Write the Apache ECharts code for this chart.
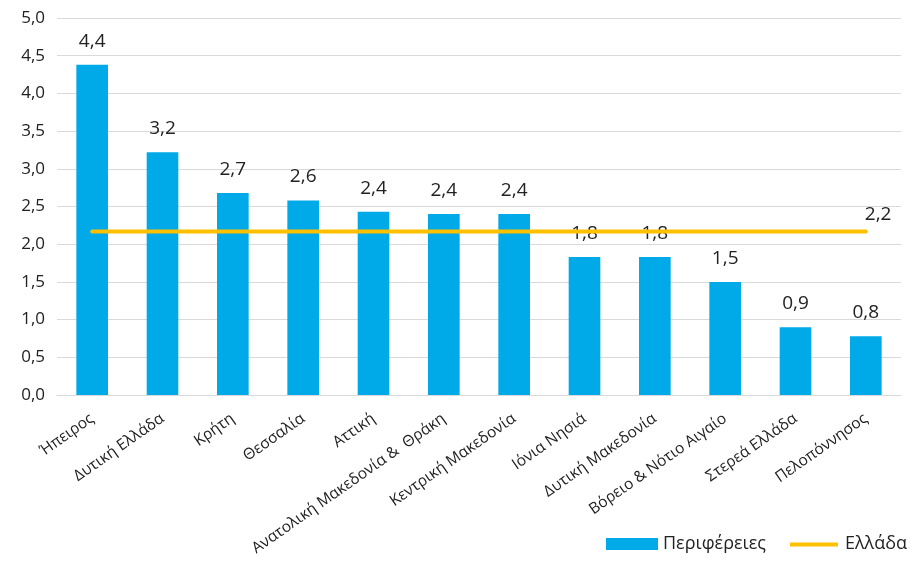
<!DOCTYPE html>
<html><head><meta charset="utf-8">
<script src="https://cdn.jsdelivr.net/npm/echarts@6/dist/echarts.min.js"></script>
<style>html,body{margin:0;padding:0;background:#fff}#c{width:910px;height:562px}</style>
</head><body><div id="c"></div>
<script>
const categories = ['Ήπειρος','Δυτική Ελλάδα','Κρήτη','Θεσσαλία','Αττική','Ανατολική Μακεδονία &  Θράκη','Κεντρική Μακεδονία','Ιόνια Νησιά','Δυτική Μακεδονία','Βόρειο & Νότιο Αιγαίο','Στερεά Ελλάδα','Πελοπόννησος'];
const regionValues = [4.38, 3.22, 2.68, 2.58, 2.43, 2.40, 2.40, 1.83, 1.83, 1.50, 0.90, 0.78];
const greeceValue = 2.17;
const greeceValues = categories.map(() => greeceValue);
const yTicks = { min: 0, max: 5, interval: 0.5 };

const fmt = v => v.toFixed(1).replace('.', ',');
const FONT = '"Open Sans", "Noto Sans", sans-serif';

const chart = echarts.init(document.getElementById('c'), null, {renderer: 'canvas'});
chart.setOption({
  animation: false,
  textStyle: { fontFamily: FONT },
  grid: { left: 57, right: 9, top: 18, bottom: 167, containLabel: false },
  legend: {
    right: -2, bottom: 4,
    itemGap: 22,
    textStyle: { fontFamily: FONT, fontSize: 18, color: '#222' },
    data: [
      { name: 'Περιφέρειες', icon: 'rect' },
      { name: 'Ελλάδα', icon: 'path://M0,0 M52,12 M2,4.5 L50,4.5 L50,8.5 L2,8.5 Z' }
    ],
    itemWidth: 52, itemHeight: 12
  },
  xAxis: {
    type: 'category',
    data: categories,
    axisTick: { show: false },
    axisLine: { lineStyle: { color: '#d9d9d9', width: 1 } },
    axisLabel: { rotate: 35, interval: 0, fontSize: 15.5, color: '#222', fontFamily: FONT, margin: 22 }
  },
  yAxis: {
    type: 'value',
    min: yTicks.min, max: yTicks.max, interval: yTicks.interval,
    axisLine: { show: false },
    axisTick: { show: false },
    splitLine: { lineStyle: { color: '#d9d9d9', width: 1 } },
    axisLabel: { formatter: v => fmt(v), fontSize: 17, color: '#222', fontFamily: FONT, margin: 12 }
  },
  series: [
    {
      name: 'Περιφέρειες', type: 'bar', data: regionValues,
      barWidth: '45%',
      itemStyle: { color: '#00a9e8' },
      label: { show: true, position: 'top', distance: 14, fontSize: 19, color: '#222', fontFamily: FONT, formatter: p => fmt(p.value) }
    },
    {
      name: 'Ελλάδα', type: 'line', data: greeceValues,
      symbol: 'none', showSymbol: false,
      lineStyle: { color: '#ffc000', width: 4, cap: 'round' },
      itemStyle: { color: '#ffc000' },
      endLabel: { show: true, distance: 0, offset: [-1, -17], fontSize: 19, color: '#222', fontFamily: FONT,
        formatter: p => fmt(p.value) },
      z: 3
    }
  ]
});
</script></body></html>
